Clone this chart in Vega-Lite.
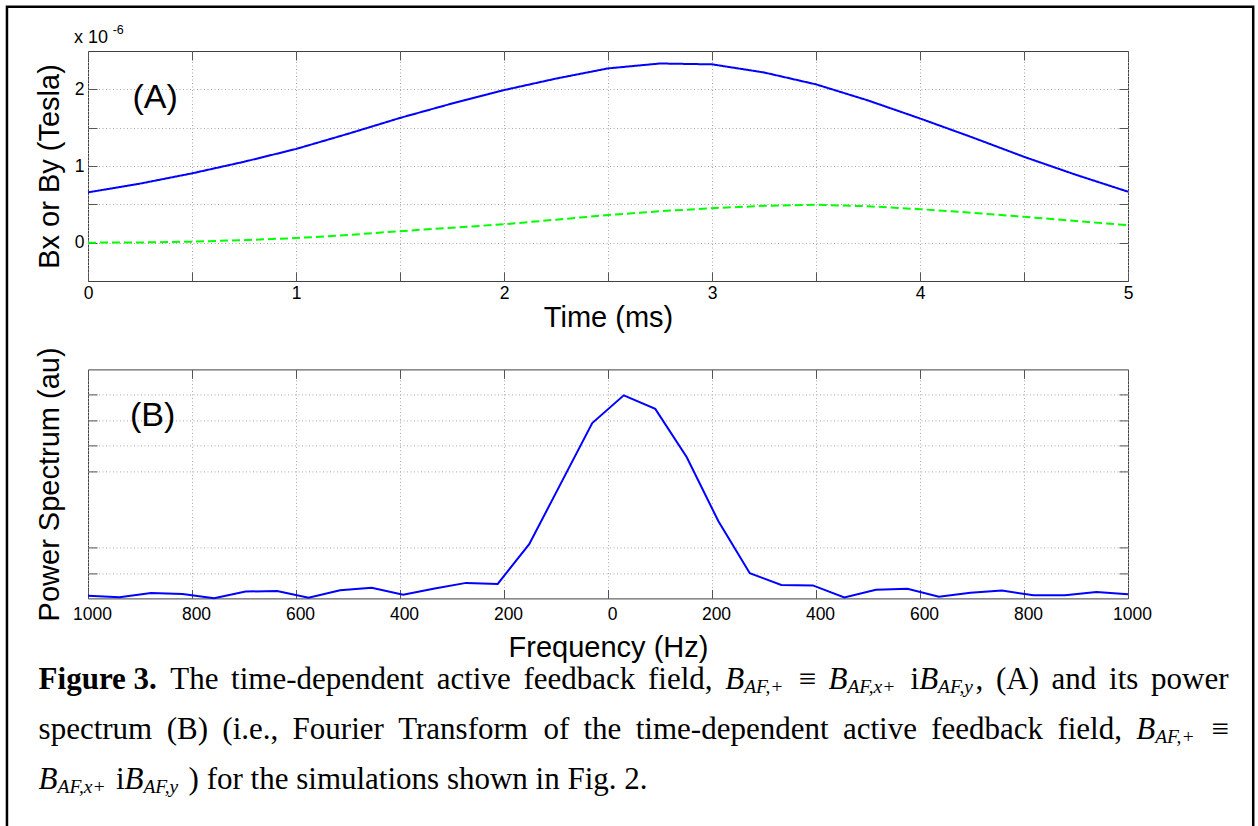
{
  "$schema": "https://vega.github.io/schema/vega-lite/v6.json",
  "background": "white",
  "padding": {"left": 5, "top": 4, "right": 0, "bottom": 0},
  "bounds": "flush",
  "spacing": 88.4,
  "config": {
    "view": {"stroke": "#404040", "strokeWidth": 1},
    "axis": {
      "labelFont": "Liberation Sans", "titleFont": "Liberation Sans",
      "labelFontSize": 17.5, "titleFontSize": 29, "titleFontWeight": "normal",
      "labelColor": "#000", "titleColor": "#000", "labelFlush": false,
      "gridColor": "#a8a8a8", "gridDash": [1, 2.5], "gridWidth": 1,
      "tickColor": "#555", "tickSize": -9, "domain": false
    },
    "text": {"font": "Liberation Serif", "fontSize": 31, "align": "left", "baseline": "alphabetic", "color": "#000"}
  },
  "datasets": {
    "fieldA": [
      {"t": 0, "B": 0.656, "series": "Bx"}, {"t": 0.25, "B": 0.77, "series": "Bx"}, {"t": 0.5, "B": 0.904, "series": "Bx"}, {"t": 0.75, "B": 1.055, "series": "Bx"},
      {"t": 1, "B": 1.222, "series": "Bx"}, {"t": 1.25, "B": 1.42, "series": "Bx"}, {"t": 1.5, "B": 1.627, "series": "Bx"}, {"t": 1.75, "B": 1.815, "series": "Bx"},
      {"t": 2, "B": 1.99, "series": "Bx"}, {"t": 2.25, "B": 2.14, "series": "Bx"}, {"t": 2.5, "B": 2.273, "series": "Bx"}, {"t": 2.75, "B": 2.337, "series": "Bx"},
      {"t": 3, "B": 2.326, "series": "Bx"}, {"t": 3.25, "B": 2.22, "series": "Bx"}, {"t": 3.5, "B": 2.065, "series": "Bx"}, {"t": 3.75, "B": 1.855, "series": "Bx"},
      {"t": 4, "B": 1.62, "series": "Bx"}, {"t": 4.25, "B": 1.375, "series": "Bx"}, {"t": 4.5, "B": 1.12, "series": "Bx"}, {"t": 4.75, "B": 0.885, "series": "Bx"},
      {"t": 5, "B": 0.665, "series": "Bx"},
      {"t": 0, "B": 0.0, "series": "By"}, {"t": 0.25, "B": 0.003, "series": "By"}, {"t": 0.5, "B": 0.013, "series": "By"}, {"t": 0.75, "B": 0.033, "series": "By"},
      {"t": 1, "B": 0.06, "series": "By"}, {"t": 1.25, "B": 0.1, "series": "By"}, {"t": 1.5, "B": 0.15, "series": "By"}, {"t": 1.75, "B": 0.195, "series": "By"},
      {"t": 2, "B": 0.24, "series": "By"}, {"t": 2.25, "B": 0.3, "series": "By"}, {"t": 2.5, "B": 0.36, "series": "By"}, {"t": 2.75, "B": 0.41, "series": "By"},
      {"t": 3, "B": 0.45, "series": "By"}, {"t": 3.25, "B": 0.48, "series": "By"}, {"t": 3.5, "B": 0.494, "series": "By"}, {"t": 3.75, "B": 0.475, "series": "By"},
      {"t": 4, "B": 0.437, "series": "By"}, {"t": 4.25, "B": 0.39, "series": "By"}, {"t": 4.5, "B": 0.337, "series": "By"}, {"t": 4.75, "B": 0.283, "series": "By"},
      {"t": 5, "B": 0.227, "series": "By"}
    ],
    "spectrum": [
      {"f": -1000, "p": 0.10}, {"f": -939.4, "p": 0.05}, {"f": -878.8, "p": 0.21}, {"f": -818.2, "p": 0.17},
      {"f": -757.6, "p": 0.01}, {"f": -697.0, "p": 0.27}, {"f": -636.4, "p": 0.29}, {"f": -575.8, "p": 0.03},
      {"f": -515.2, "p": 0.32}, {"f": -454.5, "p": 0.42}, {"f": -393.9, "p": 0.14}, {"f": -333.3, "p": 0.39},
      {"f": -272.7, "p": 0.61}, {"f": -212.1, "p": 0.57}, {"f": -151.5, "p": 2.13}, {"f": -90.9, "p": 4.51},
      {"f": -30.3, "p": 6.89}, {"f": 30.3, "p": 7.98}, {"f": 90.9, "p": 7.45}, {"f": 151.5, "p": 5.55},
      {"f": 212.1, "p": 3.04}, {"f": 272.7, "p": 0.99}, {"f": 333.3, "p": 0.53}, {"f": 393.9, "p": 0.51},
      {"f": 454.5, "p": 0.04}, {"f": 515.2, "p": 0.34}, {"f": 575.8, "p": 0.38}, {"f": 636.4, "p": 0.07},
      {"f": 697.0, "p": 0.22}, {"f": 757.6, "p": 0.31}, {"f": 818.2, "p": 0.12}, {"f": 878.8, "p": 0.12},
      {"f": 939.4, "p": 0.25}, {"f": 1000, "p": 0.16}
    ]
  },
  "vconcat": [
    {
      "width": 1040, "height": 230,
      "resolve": {"axis": {"x": "independent", "y": "independent"}},
      "layer": [
        {
          "data": {"name": "fieldA"},
          "mark": {"type": "line", "strokeWidth": 2},
          "encoding": {
            "x": {"field": "t", "type": "quantitative",
              "scale": {"domain": [0, 5], "nice": false, "zero": false},
              "axis": {"orient": "bottom", "values": [0, 0.5, 1, 1.5, 2, 2.5, 3, 3.5, 4, 4.5, 5], "labelExpr": "datum.value % 1 === 0 ? format(datum.value, 'd') : ''", "grid": true, "labelPadding": 12, "title": "Time (ms)", "titleY": 45, "titleBaseline": "alphabetic"}},
            "y": {"field": "B", "type": "quantitative",
              "scale": {"domain": [-0.5, 2.5], "nice": false, "zero": false},
              "axis": {"orient": "left", "values": [0, 0.5, 1, 1.5, 2], "labelExpr": "datum.value % 1 === 0 ? format(datum.value, 'd') : ''", "grid": true, "labelPadding": 13, "title": "Bx or By (Tesla)", "titleX": -38.3, "titleY": 115, "titleAngle": 270, "titleAlign": "center", "titleBaseline": "middle"}},
            "color": {"field": "series", "type": "nominal", "scale": {"domain": ["Bx", "By"], "range": ["#0000ff", "#00ff00"]}, "legend": null},
            "strokeDash": {"field": "series", "type": "nominal", "scale": {"domain": ["Bx", "By"], "range": [[1, 0], [8, 4]]}, "legend": null}
          }
        },
        {
          "data": {"name": "fieldA"},
          "mark": {"type": "line", "strokeOpacity": 0},
          "encoding": {
            "x": {"field": "t", "type": "quantitative", "axis": {"orient": "top", "values": [0, 0.5, 1, 1.5, 2, 2.5, 3, 3.5, 4, 4.5, 5], "labels": false, "grid": false, "title": null}},
            "y": {"field": "B", "type": "quantitative", "axis": {"orient": "right", "values": [0, 0.5, 1, 1.5, 2], "labels": false, "grid": false, "title": null}},
            "detail": {"field": "series"}
          }
        },
        {
          "data": {"values": [{}]},
          "mark": {"type": "rect", "fill": "transparent", "stroke": "#000", "strokeWidth": 2.5, "clip": false},
          "encoding": {
            "x": {"datum": -0.3896, "type": "quantitative", "axis": null},
            "x2": {"datum": 5.602},
            "y": {"datum": 3.078, "type": "quantitative", "axis": null},
            "y2": {"datum": -8.09}
          }
        },
        {
          "data": {"values": [{}]},
          "mark": {"type": "text", "text": "(A)", "font": "Liberation Sans", "fontSize": 34},
          "encoding": {"x": {"datum": 0.2136, "type": "quantitative", "axis": null}, "y": {"datum": 1.761, "type": "quantitative", "axis": null}}
        },
        {
          "data": {"values": [{}]},
          "mark": {"type": "text", "text": "x 10", "font": "Liberation Sans", "fontSize": 18},
          "encoding": {"x": {"datum": -0.0673, "type": "quantitative", "axis": null}, "y": {"datum": 2.599, "type": "quantitative", "axis": null}}
        },
        {
          "data": {"values": [{}]},
          "mark": {"type": "text", "text": "-6", "font": "Liberation Sans", "fontSize": 12.5},
          "encoding": {"x": {"datum": 0.1188, "type": "quantitative", "axis": null}, "y": {"datum": 2.722, "type": "quantitative", "axis": null}}
        }
      ]
    },
    {
      "width": 1040, "height": 229,
      "resolve": {"axis": {"x": "independent", "y": "independent"}},
      "layer": [
        {
          "data": {"name": "spectrum"},
          "mark": {"type": "line", "strokeWidth": 2, "color": "#0000ff"},
          "encoding": {
            "x": {"field": "f", "type": "quantitative",
              "scale": {"domain": [-1000, 1000], "nice": false, "zero": false},
              "axis": {"orient": "bottom", "values": [-1000, -800, -600, -400, -200, 0, 200, 400, 600, 800, 1000], "labelExpr": "format(abs(datum.value), 'd')", "labelOffset": 4, "grid": true, "labelPadding": 16, "title": "Frequency (Hz)", "titleY": 58, "titleBaseline": "alphabetic"}},
            "y": {"field": "p", "type": "quantitative",
              "scale": {"domain": [0, 9], "nice": false, "zero": false},
              "axis": {"orient": "left", "values": [1, 2, 5, 6, 7, 8], "labels": false, "grid": true, "title": "Power Spectrum (au)", "titleX": -38.3, "titleY": 114.5, "titleAngle": 270, "titleAlign": "center", "titleBaseline": "middle"}}
          }
        },
        {
          "data": {"name": "spectrum"},
          "mark": {"type": "line", "strokeOpacity": 0},
          "encoding": {
            "x": {"field": "f", "type": "quantitative", "axis": {"orient": "top", "values": [-1000, -800, -600, -400, -200, 0, 200, 400, 600, 800, 1000], "labels": false, "grid": false, "title": null}},
            "y": {"field": "p", "type": "quantitative", "axis": {"orient": "right", "values": [1, 2, 5, 6, 7, 8], "labels": false, "grid": false, "title": null}}
          }
        },
        {
          "data": {"values": [{}]},
          "mark": {"type": "text", "text": "(B)", "font": "Liberation Sans", "fontSize": 34},
          "encoding": {"x": {"datum": -919.2, "type": "quantitative", "axis": null}, "y": {"datum": 6.79, "type": "quantitative", "axis": null}}
        },
        {"data": {"values": [{}]}, "mark": {"type": "text", "text": "Figure 3.", "fontWeight": "bold"},
         "encoding": {"x": {"datum": -1095.0, "type": "quantitative", "axis": null}, "y": {"datum": -3.577, "type": "quantitative", "axis": null}}},
        {"data": {"values": [{}]}, "mark": {"type": "text", "text": "The"},
         "encoding": {"x": {"datum": -841.9, "type": "quantitative", "axis": null}, "y": {"datum": -3.577, "type": "quantitative", "axis": null}}},
        {"data": {"values": [{}]}, "mark": {"type": "text", "text": "time-dependent"},
         "encoding": {"x": {"datum": -724.8, "type": "quantitative", "axis": null}, "y": {"datum": -3.577, "type": "quantitative", "axis": null}}},
        {"data": {"values": [{}]}, "mark": {"type": "text", "text": "active"},
         "encoding": {"x": {"datum": -329.4, "type": "quantitative", "axis": null}, "y": {"datum": -3.577, "type": "quantitative", "axis": null}}},
        {"data": {"values": [{}]}, "mark": {"type": "text", "text": "feedback"},
         "encoding": {"x": {"datum": -162.7, "type": "quantitative", "axis": null}, "y": {"datum": -3.577, "type": "quantitative", "axis": null}}},
        {"data": {"values": [{}]}, "mark": {"type": "text", "text": "field,"},
         "encoding": {"x": {"datum": 76.9, "type": "quantitative", "axis": null}, "y": {"datum": -3.577, "type": "quantitative", "axis": null}}},
        {"data": {"values": [{}]}, "mark": {"type": "text", "text": "B", "fontStyle": "italic"},
         "encoding": {"x": {"datum": 225.6, "type": "quantitative", "axis": null}, "y": {"datum": -3.577, "type": "quantitative", "axis": null}}},
        {"data": {"values": [{}]}, "mark": {"type": "text", "text": "AF,+", "fontSize": 19.5, "fontStyle": "italic"},
         "encoding": {"x": {"datum": 261.9, "type": "quantitative", "axis": null}, "y": {"datum": -3.734, "type": "quantitative", "axis": null}}},
        {"data": {"values": [{}]}, "mark": {"type": "text", "text": "≡"},
         "encoding": {"x": {"datum": 366.9, "type": "quantitative", "axis": null}, "y": {"datum": -3.577, "type": "quantitative", "axis": null}}},
        {"data": {"values": [{}]}, "mark": {"type": "text", "text": "B", "fontStyle": "italic"},
         "encoding": {"x": {"datum": 424.0, "type": "quantitative", "axis": null}, "y": {"datum": -3.577, "type": "quantitative", "axis": null}}},
        {"data": {"values": [{}]}, "mark": {"type": "text", "text": "AF,x+", "fontSize": 19.5, "fontStyle": "italic"},
         "encoding": {"x": {"datum": 460.4, "type": "quantitative", "axis": null}, "y": {"datum": -3.734, "type": "quantitative", "axis": null}}},
        {"data": {"values": [{}]}, "mark": {"type": "text", "text": "i"},
         "encoding": {"x": {"datum": 581.9, "type": "quantitative", "axis": null}, "y": {"datum": -3.577, "type": "quantitative", "axis": null}}},
        {"data": {"values": [{}]}, "mark": {"type": "text", "text": "B", "fontStyle": "italic"},
         "encoding": {"x": {"datum": 598.5, "type": "quantitative", "axis": null}, "y": {"datum": -3.577, "type": "quantitative", "axis": null}}},
        {"data": {"values": [{}]}, "mark": {"type": "text", "text": "AF,y", "fontSize": 19.5, "fontStyle": "italic"},
         "encoding": {"x": {"datum": 634.8, "type": "quantitative", "axis": null}, "y": {"datum": -3.734, "type": "quantitative", "axis": null}}},
        {"data": {"values": [{}]}, "mark": {"type": "text", "text": ","},
         "encoding": {"x": {"datum": 706.7, "type": "quantitative", "axis": null}, "y": {"datum": -3.577, "type": "quantitative", "axis": null}}},
        {"data": {"values": [{}]}, "mark": {"type": "text", "text": "(A)"},
         "encoding": {"x": {"datum": 746.0, "type": "quantitative", "axis": null}, "y": {"datum": -3.577, "type": "quantitative", "axis": null}}},
        {"data": {"values": [{}]}, "mark": {"type": "text", "text": "and"},
         "encoding": {"x": {"datum": 853.1, "type": "quantitative", "axis": null}, "y": {"datum": -3.577, "type": "quantitative", "axis": null}}},
        {"data": {"values": [{}]}, "mark": {"type": "text", "text": "its"},
         "encoding": {"x": {"datum": 963.7, "type": "quantitative", "axis": null}, "y": {"datum": -3.577, "type": "quantitative", "axis": null}}},
        {"data": {"values": [{}]}, "mark": {"type": "text", "text": "power"},
         "encoding": {"x": {"datum": 1044.4, "type": "quantitative", "axis": null}, "y": {"datum": -3.577, "type": "quantitative", "axis": null}}},
        {"data": {"values": [{}]}, "mark": {"type": "text", "text": "spectrum"},
         "encoding": {"x": {"datum": -1095.0, "type": "quantitative", "axis": null}, "y": {"datum": -5.542, "type": "quantitative", "axis": null}}},
        {"data": {"values": [{}]}, "mark": {"type": "text", "text": "(B)"},
         "encoding": {"x": {"datum": -848.7, "type": "quantitative", "axis": null}, "y": {"datum": -5.542, "type": "quantitative", "axis": null}}},
        {"data": {"values": [{}]}, "mark": {"type": "text", "text": "(i.e.,"},
         "encoding": {"x": {"datum": -741.7, "type": "quantitative", "axis": null}, "y": {"datum": -5.542, "type": "quantitative", "axis": null}}},
        {"data": {"values": [{}]}, "mark": {"type": "text", "text": "Fourier"},
         "encoding": {"x": {"datum": -606.5, "type": "quantitative", "axis": null}, "y": {"datum": -5.542, "type": "quantitative", "axis": null}}},
        {"data": {"values": [{}]}, "mark": {"type": "text", "text": "Transform"},
         "encoding": {"x": {"datum": -403.5, "type": "quantitative", "axis": null}, "y": {"datum": -5.542, "type": "quantitative", "axis": null}}},
        {"data": {"values": [{}]}, "mark": {"type": "text", "text": "of"},
         "encoding": {"x": {"datum": -124.2, "type": "quantitative", "axis": null}, "y": {"datum": -5.542, "type": "quantitative", "axis": null}}},
        {"data": {"values": [{}]}, "mark": {"type": "text", "text": "the"},
         "encoding": {"x": {"datum": -47.1, "type": "quantitative", "axis": null}, "y": {"datum": -5.542, "type": "quantitative", "axis": null}}},
        {"data": {"values": [{}]}, "mark": {"type": "text", "text": "time-dependent"},
         "encoding": {"x": {"datum": 53.3, "type": "quantitative", "axis": null}, "y": {"datum": -5.542, "type": "quantitative", "axis": null}}},
        {"data": {"values": [{}]}, "mark": {"type": "text", "text": "active"},
         "encoding": {"x": {"datum": 451.7, "type": "quantitative", "axis": null}, "y": {"datum": -5.542, "type": "quantitative", "axis": null}}},
        {"data": {"values": [{}]}, "mark": {"type": "text", "text": "feedback"},
         "encoding": {"x": {"datum": 621.5, "type": "quantitative", "axis": null}, "y": {"datum": -5.542, "type": "quantitative", "axis": null}}},
        {"data": {"values": [{}]}, "mark": {"type": "text", "text": "field,"},
         "encoding": {"x": {"datum": 864.2, "type": "quantitative", "axis": null}, "y": {"datum": -5.542, "type": "quantitative", "axis": null}}},
        {"data": {"values": [{}]}, "mark": {"type": "text", "text": "B", "fontStyle": "italic"},
         "encoding": {"x": {"datum": 1016.0, "type": "quantitative", "axis": null}, "y": {"datum": -5.542, "type": "quantitative", "axis": null}}},
        {"data": {"values": [{}]}, "mark": {"type": "text", "text": "AF,+", "fontSize": 19.5, "fontStyle": "italic"},
         "encoding": {"x": {"datum": 1052.3, "type": "quantitative", "axis": null}, "y": {"datum": -5.70, "type": "quantitative", "axis": null}}},
        {"data": {"values": [{}]}, "mark": {"type": "text", "text": "≡"},
         "encoding": {"x": {"datum": 1160.4, "type": "quantitative", "axis": null}, "y": {"datum": -5.542, "type": "quantitative", "axis": null}}},
        {"data": {"values": [{}]}, "mark": {"type": "text", "text": "B", "fontStyle": "italic"},
         "encoding": {"x": {"datum": -1095.0, "type": "quantitative", "axis": null}, "y": {"datum": -7.508, "type": "quantitative", "axis": null}}},
        {"data": {"values": [{}]}, "mark": {"type": "text", "text": "AF,x+", "fontSize": 19.5, "fontStyle": "italic"},
         "encoding": {"x": {"datum": -1058.5, "type": "quantitative", "axis": null}, "y": {"datum": -7.665, "type": "quantitative", "axis": null}}},
        {"data": {"values": [{}]}, "mark": {"type": "text", "text": "i"},
         "encoding": {"x": {"datum": -946.3, "type": "quantitative", "axis": null}, "y": {"datum": -7.508, "type": "quantitative", "axis": null}}},
        {"data": {"values": [{}]}, "mark": {"type": "text", "text": "B", "fontStyle": "italic"},
         "encoding": {"x": {"datum": -929.8, "type": "quantitative", "axis": null}, "y": {"datum": -7.508, "type": "quantitative", "axis": null}}},
        {"data": {"values": [{}]}, "mark": {"type": "text", "text": "AF,y", "fontSize": 19.5, "fontStyle": "italic"},
         "encoding": {"x": {"datum": -893.5, "type": "quantitative", "axis": null}, "y": {"datum": -7.665, "type": "quantitative", "axis": null}}},
        {"data": {"values": [{}]}, "mark": {"type": "text", "text": ") for the simulations shown in Fig. 2."},
         "encoding": {"x": {"datum": -806.5, "type": "quantitative", "axis": null}, "y": {"datum": -7.508, "type": "quantitative", "axis": null}}}
      ]
    }
  ]
}
